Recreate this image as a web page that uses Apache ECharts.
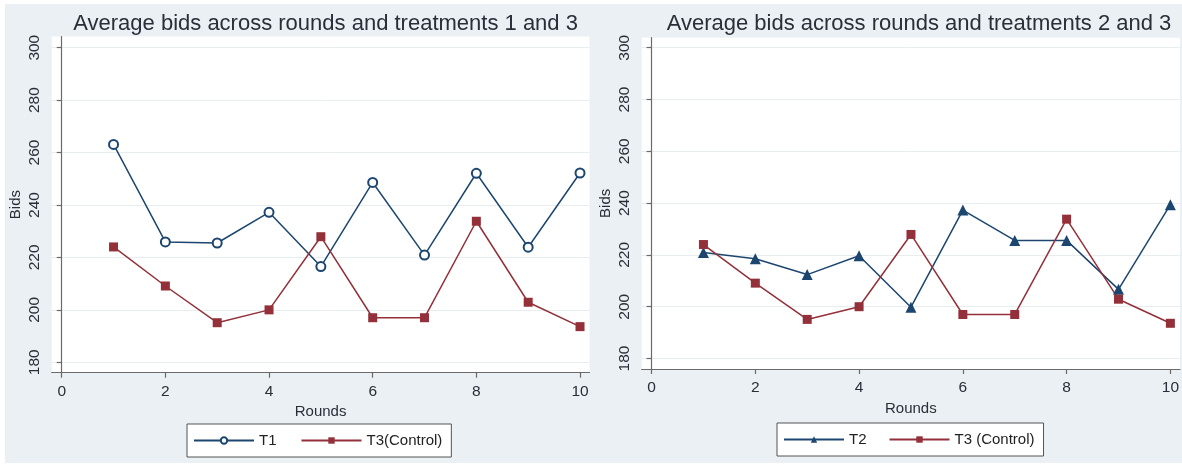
<!DOCTYPE html>
<html>
<head>
<meta charset="utf-8">
<script src="https://cdn.jsdelivr.net/npm/echarts@6/dist/echarts.min.js"></script>
<style>
html,body{margin:0;padding:0;background:#fff;}
#c{width:1182px;height:465px;}
</style>
</head>
<body>
<div id="c"></div>
<script>
var rounds = [1, 2, 3, 4, 5, 6, 7, 8, 9, 10];
var t1 = [263.1, 225.9, 225.5, 237.2, 216.5, 248.6, 220.9, 252.1, 223.9, 252.2];
var t2 = [220.9, 218.5, 212.4, 219.7, 199.8, 237.3, 225.6, 225.6, 206.7, 239.4];
var t3 = [224.0, 209.1, 195.1, 200.0, 227.9, 197.0, 197.0, 233.8, 202.9, 193.6];
var xTicks = [0, 2, 4, 6, 8, 10];
var yTicks = [180, 200, 220, 240, 260, 280, 300];
var titles = ['Average bids across rounds and treatments 1 and 3', 'Average bids across rounds and treatments 2 and 3'];
var names = ['T1', 'T3(Control)', 'T2', 'T3 (Control)'];

function pairs(vals) { return rounds.map(function (r, i) { return [r, vals[i]]; }); }

var FONT = 'Liberation Sans, Arial, sans-serif';
var NAVY = '#1c4670';
var MAROON = '#933039';
var AX = '#6a6a6a';
var TXT = '#2a2e38';

function xAxis(gi, mn, mx) {
  return {
    type: 'value', gridIndex: gi, min: mn, max: mx,
    name: 'Rounds', nameLocation: 'middle', nameGap: 28,
    nameTextStyle: { fontFamily: FONT, fontSize: 15, color: TXT },
    axisLine: { show: true, lineStyle: { color: AX, width: 1.2 } },
    axisTick: { show: true, length: 5, lineStyle: { color: AX, width: 1.2 }, customValues: xTicks },
    axisLabel: { fontFamily: FONT, fontSize: 15.5, color: TXT, margin: 11, customValues: xTicks },
    splitLine: { show: false }
  };
}
function yAxis(gi, mn, mx) {
  return {
    type: 'value', gridIndex: gi, min: mn, max: mx,
    name: 'Bids', nameLocation: 'middle', nameGap: 28, nameRotate: 90,
    nameTextStyle: { fontFamily: FONT, fontSize: 15, color: TXT },
    axisLine: { show: true, lineStyle: { color: AX, width: 1.2 } },
    axisTick: { show: true, length: 5, lineStyle: { color: AX, width: 1.2 }, customValues: yTicks },
    axisLabel: { fontFamily: FONT, fontSize: 15.5, color: TXT, margin: 9, rotate: 90, customValues: yTicks },
    splitLine: { show: true, lineStyle: { color: '#E8EEF0', width: 1 } }
  };
}
function legend(l, t, data, gap) {
  return {
    left: l, top: t, data: data, orient: 'horizontal',
    backgroundColor: '#fff', borderColor: '#555', borderWidth: 1,
    padding: [9, 9, 9, 6], itemGap: gap, itemWidth: 60, itemHeight: 8,
    textStyle: { fontFamily: FONT, fontSize: 15, color: '#222' }
  };
}

var chart = echarts.init(document.getElementById('c'), null, { renderer: 'canvas' });
chart.setOption({
  backgroundColor: '#ffffff',
  animation: false,
  graphic: [{ type: 'rect', z: -10, silent: true, shape: { x: 5, y: 4, width: 1177, height: 459 }, style: { fill: '#EAF0F3' } }],
  title: [
    { text: titles[0], left: 320.6, top: 8, textAlign: 'center', textStyle: { fontFamily: FONT, fontSize: 22, fontWeight: 'normal', color: TXT } },
    { text: titles[1], left: 914, top: 8, textAlign: 'center', textStyle: { fontFamily: FONT, fontSize: 22, fontWeight: 'normal', color: TXT } }
  ],
  legend: [
    legend(187, 424, [names[0], names[1]], 24),
    legend(777, 423, [names[2], names[3]], 22)
  ],
  grid: [
    { left: 51.7, top: 36.5, width: 537.8, height: 336.2, show: true, backgroundColor: '#fff', borderWidth: 0 },
    { left: 641.7, top: 37.7, width: 545, height: 331.3, show: true, backgroundColor: '#fff', borderWidth: 0 }
  ],
  xAxis: [xAxis(0, -0.193, 10.183), xAxis(1, -0.19, 10.185)],
  yAxis: [yAxis(0, 176.03, 304.27), yAxis(1, 175.95, 303.86)],
  series: [
    { name: names[0], type: 'line', xAxisIndex: 0, yAxisIndex: 0, data: pairs(t1),
      symbol: 'emptyCircle', symbolSize: 9, color: NAVY,
      lineStyle: { color: NAVY, width: 1.5 }, itemStyle: { color: NAVY, borderColor: NAVY, borderWidth: 1.3 } },
    { name: names[1], type: 'line', xAxisIndex: 0, yAxisIndex: 0, data: pairs(t3),
      symbol: 'rect', symbolSize: 9, color: MAROON,
      lineStyle: { color: MAROON, width: 1.5 }, itemStyle: { color: MAROON } },
    { name: names[2], type: 'line', xAxisIndex: 1, yAxisIndex: 1, data: pairs(t2),
      symbol: 'triangle', symbolSize: 11, color: NAVY,
      lineStyle: { color: NAVY, width: 1.5 }, itemStyle: { color: NAVY } },
    { name: names[3], type: 'line', xAxisIndex: 1, yAxisIndex: 1, data: pairs(t3),
      symbol: 'rect', symbolSize: 9, color: MAROON,
      lineStyle: { color: MAROON, width: 1.5 }, itemStyle: { color: MAROON } }
  ]
});
</script>
</body>
</html>
